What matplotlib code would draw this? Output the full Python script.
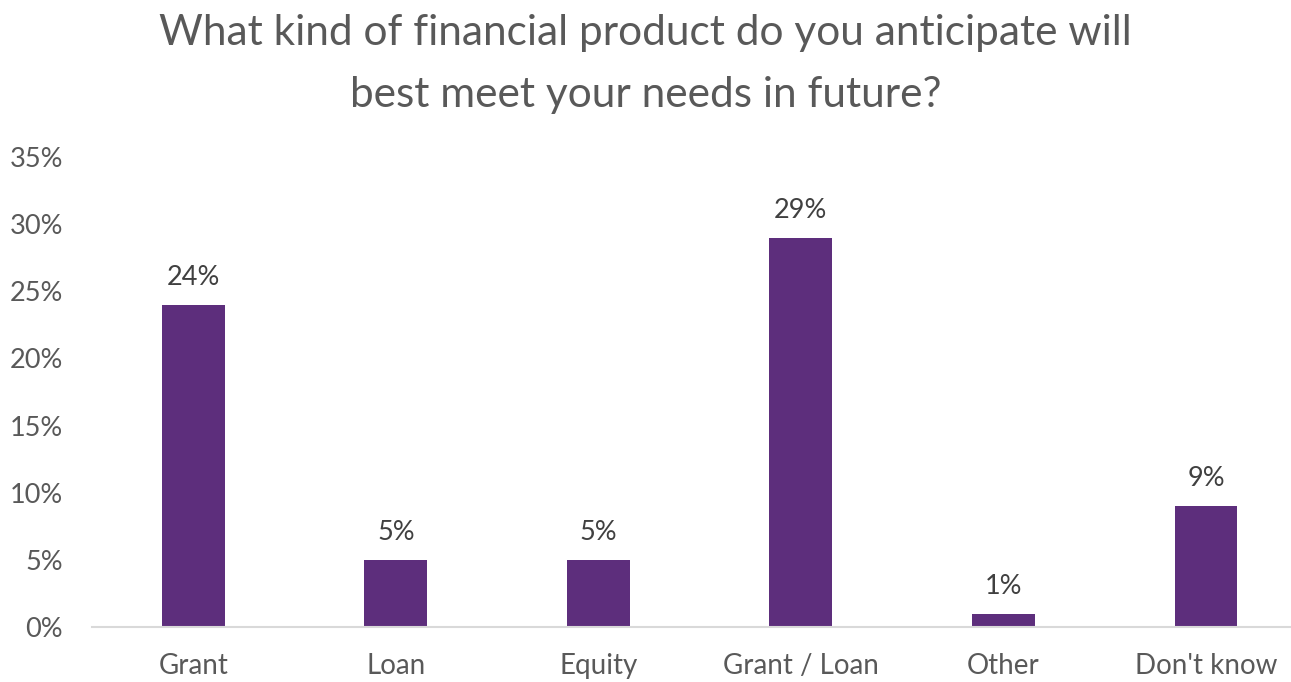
import matplotlib
matplotlib.use("Agg")
import matplotlib.pyplot as plt

categories = ["Grant", "Loan", "Equity", "Grant / Loan", "Other", "Don't know"]
values = [24, 5, 5, 29, 1, 9]
yticks = [0, 5, 10, 15, 20, 25, 30, 35]
title = "What kind of financial product do you anticipate will\nbest meet your needs in future?"

BAR = "#5D2E7C"
GREY = "#595959"
plt.rcParams["font.family"] = ["Lato", "DejaVu Sans"]

fig = plt.figure(figsize=(12.91, 6.82), dpi=100)
ax = fig.add_axes([92 / 1291, 1 - 627 / 682, (1290 - 92) / 1291, (627 - 157) / 682])

x = list(range(len(categories)))
ax.bar(x, values, width=0.31, color=BAR, zorder=2)
for xi, v in zip(x, values):
    ax.text(xi, v + 1.1, f"{v}%", ha="center", va="bottom", fontsize=19.5, color="#404040")

ax.set_xlim(-0.5, 5.415)
ax.set_ylim(0, 35)
ax.set_yticks(yticks)
ax.set_yticklabels([f"{t}%" for t in yticks], fontsize=19.5, color=GREY)
ax.set_xticks(x)
ax.set_xticklabels(categories, fontsize=20, color=GREY)
ax.tick_params(axis="both", length=0)
ax.tick_params(axis="y", pad=21)
ax.tick_params(axis="x", pad=19)
for s in ["top", "right", "left"]:
    ax.spines[s].set_visible(False)
ax.spines["bottom"].set_color("#D9D9D9")
ax.spines["bottom"].set_linewidth(1.5)

fig.text(0.5, 1 - 64 / 682, title, ha="center", va="center", fontsize=30.5,
         color=GREY, linespacing=1.78)

fig.savefig("out.png", dpi=100)
